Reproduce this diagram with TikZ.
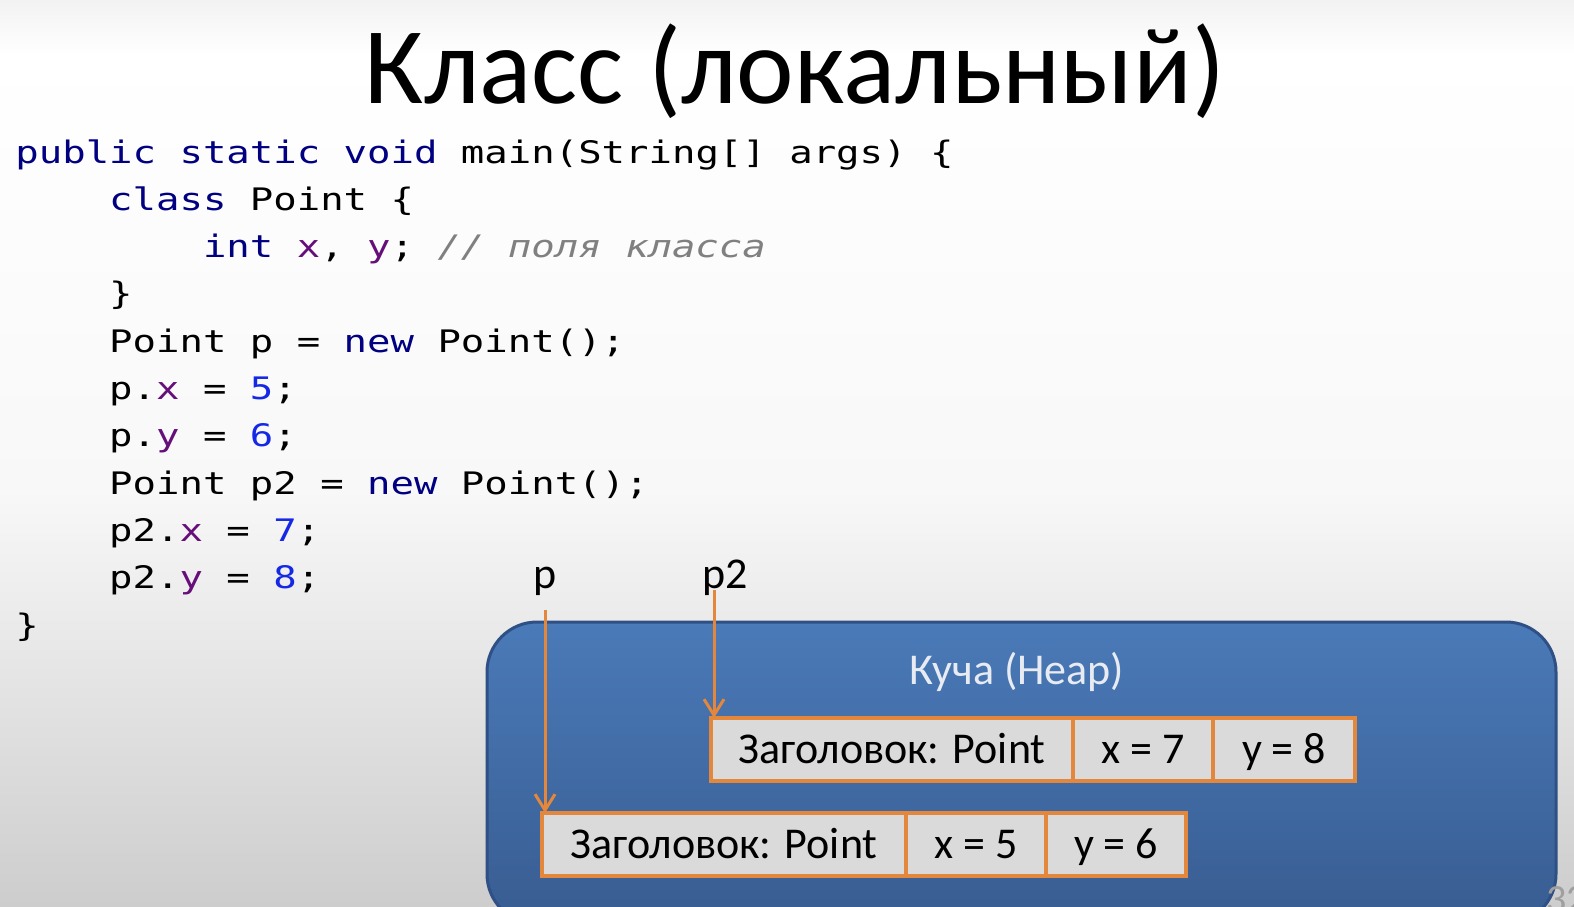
\documentclass[tikz,border=0pt]{standalone}
\usepackage{fontspec}
\usetikzlibrary{arrows.meta}

\newfontfamily\carlito{Carlito}
\newfontfamily\codefont[FakeStretch=1.2566]{DejaVu Sans Mono}

\definecolor{kwblue}{RGB}{0,0,128}
\definecolor{field}{RGB}{102,14,122}
\definecolor{num}{RGB}{20,40,230}
\definecolor{cmt}{RGB}{128,128,128}
\definecolor{ptr}{RGB}{226,135,60}
\definecolor{heaptop}{RGB}{74,122,184}
\definecolor{heapbot}{RGB}{56,92,145}
\definecolor{heapedge}{RGB}{46,80,132}
\definecolor{heaptext}{RGB}{232,236,242}
\definecolor{cellfill}{RGB}{218,218,218}
\definecolor{bgtop}{RGB}{242,242,242}
\definecolor{bgmid}{RGB}{248,248,248}
\definecolor{bgbot}{RGB}{205,205,205}

% syntax colouring for the Java listing
\newcommand\kw[1]{\textcolor{kwblue}{#1}}
\newcommand\fld[1]{\textcolor{field}{#1}}
\newcommand\nm[1]{\textcolor{num}{#1}}
\newcommand\cmt[1]{\textcolor{cmt}{\itshape #1}}

% slide background: white, fading to grey towards the bottom
\pgfdeclareverticalshading{slidebg}{100bp}{color(0bp)=(bgbot); color(25bp)=(bgbot); color(48bp)=(bgmid); color(72bp)=(white); color(75bp)=(bgtop); color(100bp)=(bgtop)}

\begin{document}
\begin{tikzpicture}[x=0.5pt,y=-0.5pt,
  title/.style={font=\carlito\fontsize{54.5}{62}\selectfont, inner sep=0, anchor=base},
  code/.style={font=\codefont\fontsize{15.5}{18}\selectfont, inner sep=0, anchor=base west},
  lbl/.style={font=\carlito\fontsize{22}{26}\selectfont, inner sep=0},
  heapbox/.style={draw=heapedge, line width=1.5pt, rounded corners=25pt,
    top color=heaptop, bottom color=heapbot, inner sep=0, outer sep=0},
  cell/.style={draw=ptr, line width=2pt, fill=cellfill, minimum height=31.5pt,
    inner sep=0, outer sep=0, font=\carlito\fontsize{22}{26}\selectfont,
    text height=14.2pt, text depth=0pt},
  arr/.style={draw=ptr, line width=1.5pt, -{Straight Barb[length=8pt,width=10pt]}}]

\useasboundingbox (0,0) rectangle (1574,906);
\clip (0,0) rectangle (1574,906);
\shade[shading=slidebg] (0,0) rectangle (1574,906);

% heading
\node[title] (title) at (795,103) {Класс (локальный)};

% Java listing
\node[code] (c0)  at (15,163)      {\kw{public static void} main(String[] args) \{};
\node[code] (c1)  at (108.8,210.3) {\kw{class} Point \{};
\node[code] (c2)  at (202.6,257.6) {\kw{int} \fld{x}, \fld{y}; \cmt{// поля класса}};
\node[code] (c3)  at (108.8,304.9) {\}};
\node[code] (c4)  at (108.8,352.2) {Point p = \kw{new} Point();};
\node[code] (c5)  at (108.8,399.5) {p.\fld{x} = \nm{5};};
\node[code] (c6)  at (108.8,446.8) {p.\fld{y} = \nm{6};};
\node[code] (c7)  at (108.8,494.1) {Point p2 = \kw{new} Point();};
\node[code] (c8)  at (108.8,541.4) {p2.\fld{x} = \nm{7};};
\node[code] (c9)  at (108.8,588.7) {p2.\fld{y} = \nm{8};};
\node[code] (c10) at (15,636)      {\}};

% heap area
\node[heapbox, minimum width=534.5pt, minimum height=151pt, anchor=north west] (heap) at (487,622) {};
\node[lbl, text=heaptext, anchor=base] (heapname) at (1017,684) {Куча (Heap)};

% object p2
\node[cell, minimum width=181pt, anchor=north west] (h2) at (711,718) {Заголовок: Point};
\node[cell, minimum width=70pt, anchor=west] (x2) at (h2.east) {x = 7};
\node[cell, minimum width=71pt, anchor=west] (y2) at (x2.east) {y = 8};

% object p
\node[cell, minimum width=182pt, anchor=north west] (h1) at (542,813) {Заголовок: Point};
\node[cell, minimum width=70pt, anchor=west] (x1) at (h1.east) {x = 5};
\node[cell, minimum width=70pt, anchor=west] (y1) at (x1.east) {y = 6};

% references
\node[lbl, anchor=base] (pl) at (545,588) {p};
\node[lbl, anchor=base west] (p2l) at (702,588) {p2};
\draw[arr] ([yshift=-11pt]pl.base) coordinate (ps) -- (ps |- h1.north);
\draw[arr] ([xshift=6pt,yshift=-1pt]p2l.base west) coordinate (p2s) -- (p2s |- h2.north);

% slide number
\node[font=\carlito\fontsize{20}{24}\selectfont, text=gray!75, anchor=north west, inner sep=0] (slideno) at (1546,886) {32};
\end{tikzpicture}
\end{document}
